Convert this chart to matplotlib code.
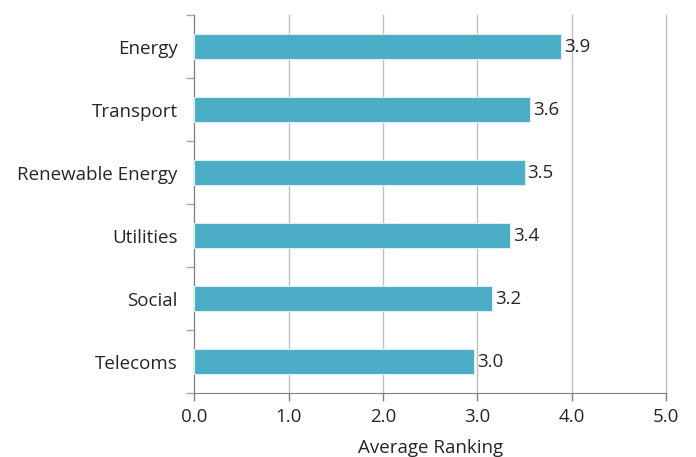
import matplotlib.pyplot as plt

sectores = ['Energy', 'Transport', 'Renewable Energy', 'Utilities', 'Social', 'Telecoms']
valores = [3.89, 3.56, 3.50, 3.35, 3.16, 2.97]
ticks_x = [0, 1, 2, 3, 4, 5]

plt.rcParams['font.family'] = ['Open Sans', 'DejaVu Sans']
texto = '#262626'
fs = 13.5

fig = plt.figure(figsize=(6.96, 4.57), dpi=100)
ax = fig.add_axes([0.279, 0.140, 0.678, 0.827])

y = list(range(len(sectores)))[::-1]
ax.barh(y, valores, height=0.4, color='#4BACC6', edgecolor='#DDEFF4', linewidth=0.8, zorder=3)

for yi, v in zip(y, valores):
    ax.text(v + 0.03, yi, f'{v:.1f}', va='center', ha='left', fontsize=fs, color=texto)

ax.set_xlim(0, 5)
ax.set_ylim(-0.5, len(sectores) - 0.5)
ax.set_xticks(ticks_x)
ax.set_xticklabels([f'{t:.1f}' for t in ticks_x], fontsize=fs, color=texto)
ax.set_yticks(y)
ax.set_yticklabels(sectores, fontsize=fs, color=texto)
ax.tick_params(axis='y', length=0, pad=12)
ax.set_yticks([i - 0.5 for i in range(len(sectores) + 1)], minor=True)
ax.tick_params(axis='y', which='minor', length=6, color='#A6A6A6', width=1)
ax.tick_params(axis='x', length=6, color='#7F7F7F', width=1, pad=5)

ax.grid(axis='x', color='#BFBFBF', linewidth=1, zorder=0)
for linea in ax.get_xgridlines():
    linea.set_clip_on(False)
for lado in ['top', 'right']:
    ax.spines[lado].set_visible(False)
ax.spines['left'].set_color('#7F7F7F')
ax.spines['bottom'].set_color('#7F7F7F')

ax.set_xlabel('Average Ranking', fontsize=fs, color=texto, labelpad=9)

plt.savefig('out.png', dpi=100)
